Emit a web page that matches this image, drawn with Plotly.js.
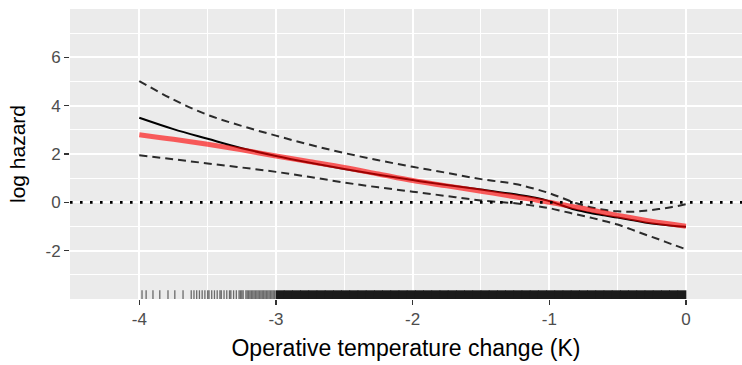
<!DOCTYPE html>
<html>
<head>
<meta charset="utf-8">
<script src="https://cdn.plot.ly/plotly-3.0.1.min.js"></script>
<style>html,body{margin:0;padding:0;background:#fff;}#chart{width:742px;height:365px;}</style>
</head>
<body>
<div id="chart"></div>
<script>
// Temperature change (K) grid for the curves
const tempChange = [-4, -3.75, -3.5, -3.25, -3, -2.75, -2.5, -2.25, -2, -1.75, -1.5, -1.25, -1.1, -1, -0.9, -0.8, -0.7, -0.6, -0.5, -0.4, -0.3, -0.2, -0.1, 0];
// Smooth estimate (black)
const estimate = [3.50, 3.03, 2.63, 2.24, 1.92, 1.64, 1.38, 1.14, 0.92, 0.72, 0.53, 0.33, 0.19, 0.05, -0.14, -0.32, -0.44, -0.54, -0.63, -0.73, -0.83, -0.91, -0.97, -1.01];
// Linear-ish fit (red)
const linearFit = [2.80, 2.61, 2.40, 2.17, 1.92, 1.68, 1.44, 1.17, 0.90, 0.68, 0.46, 0.23, 0.10, 0.00, -0.10, -0.20, -0.31, -0.43, -0.54, -0.64, -0.74, -0.83, -0.91, -0.99];
// Confidence band (dashed)
const upperCI = [5.02, 4.25, 3.62, 3.16, 2.76, 2.38, 2.04, 1.74, 1.47, 1.22, 0.96, 0.76, 0.55, 0.38, 0.17, -0.04, -0.20, -0.31, -0.37, -0.39, -0.35, -0.28, -0.19, -0.08];
const lowerCI = [1.95, 1.78, 1.61, 1.44, 1.26, 1.05, 0.82, 0.62, 0.44, 0.26, 0.08, -0.04, -0.15, -0.24, -0.37, -0.50, -0.63, -0.77, -0.92, -1.12, -1.33, -1.53, -1.74, -1.94];
// Rug observations
const rugSparse = [-3.98, -3.95, -3.90, -3.85, -3.79, -3.74, -3.68, -3.62, -3.60, -3.58, -3.56, -3.54, -3.52, -3.50, -3.49, -3.47, -3.45, -3.43, -3.41, -3.40, -3.38, -3.36, -3.34, -3.33, -3.31, -3.29, -3.27, -3.26, -3.25, -3.24, -3.22, -3.21, -3.20, -3.19, -3.18, -3.17, -3.16, -3.15, -3.14, -3.13, -3.12, -3.11, -3.10, -3.09, -3.08, -3.07, -3.06, -3.05, -3.04, -3.03, -3.02, -3.01];
const rugDense = [-2.97, -2.91, -2.85, -2.79, -2.73, -2.67, -2.61, -2.55, -2.49, -2.43, -2.37, -2.31, -2.25, -2.19, -2.13, -2.07, -2.01, -1.95, -1.89, -1.83, -1.77, -1.71, -1.65, -1.59, -1.53, -1.47, -1.41, -1.35, -1.29, -1.23, -1.17, -1.11, -1.05, -0.99, -0.93, -0.87, -0.81, -0.75, -0.69, -0.63, -0.57, -0.51, -0.45, -0.39, -0.33, -0.27, -0.21, -0.15, -0.09, -0.03];
// Axis ticks
const xTickVals = [-4, -3, -2, -1, 0];
const xTickText = ['-4', '-3', '-2', '-1', '0'];
const yTickVals = [-2, 0, 2, 4, 6];
const yTickText = ['-2', '0', '2', '4', '6'];

const yMin = -4, yMax = 8;
const rugLen = (yMax - yMin) * 0.03;
function rugXY(vals) {
  const x = [], y = [];
  vals.forEach(v => { x.push(v, v, null); y.push(yMin, yMin + rugLen, null); });
  return {x, y};
}
const rs = rugXY(rugSparse), rd = rugXY(rugDense);

const dashStyle = '8px,5px';
const traces = [
  {x: rs.x, y: rs.y, mode: 'lines', line: {color: 'rgba(0,0,0,0.55)', width: 1.3}, hoverinfo: 'skip', connectgaps: false},
  {x: rd.x, y: rd.y, mode: 'lines', line: {color: '#1a1a1a', width: 9}, hoverinfo: 'skip', connectgaps: false},
  {x: tempChange, y: upperCI, mode: 'lines', line: {color: '#2b2b2b', width: 2, dash: dashStyle, shape: 'spline'}},
  {x: tempChange, y: lowerCI, mode: 'lines', line: {color: '#2b2b2b', width: 2, dash: dashStyle, shape: 'spline'}},
  {x: tempChange, y: estimate, mode: 'lines', line: {color: '#000000', width: 2, shape: 'spline'}},
  {x: tempChange, y: linearFit, mode: 'lines', line: {color: 'rgba(255,0,0,0.62)', width: 5, shape: 'spline'}}
];

const axisCommon = {
  showline: false, zeroline: false,
  ticks: 'outside', ticklen: 5, tickwidth: 1.3, tickcolor: '#333333',
  gridcolor: '#FFFFFF', gridwidth: 2,
  tickfont: {family: 'Liberation Sans, Arial, sans-serif', size: 17, color: '#4D4D4D'},
  fixedrange: true
};

const layout = {
  width: 742, height: 365,
  margin: {l: 70, r: 0, t: 9, b: 66},
  paper_bgcolor: '#FFFFFF', plot_bgcolor: '#EBEBEB',
  showlegend: false,
  font: {family: 'Liberation Sans, Arial, sans-serif'},
  xaxis: Object.assign({}, axisCommon, {
    range: [-4.507, 0.41],
    tickmode: 'array', tickvals: xTickVals, ticktext: xTickText,
    minor: {dtick: 0.5, tick0: 0, showgrid: true, gridcolor: '#FFFFFF', gridwidth: 1, ticks: ''},
    title: {text: 'Operative temperature change (K)', font: {size: 23, color: '#000000'}, standoff: 11}
  }),
  yaxis: Object.assign({}, axisCommon, {
    range: [yMin, yMax],
    tickmode: 'array', tickvals: yTickVals, ticktext: yTickText,
    minor: {dtick: 1, tick0: 0, showgrid: true, gridcolor: '#FFFFFF', gridwidth: 1, ticks: ''},
    title: {text: 'log hazard', font: {size: 21, color: '#000000'}, standoff: 14}
  }),
  shapes: [{
    type: 'line', xref: 'paper', yref: 'y', x0: 0, x1: 1, y0: 0, y1: 0,
    line: {color: '#000000', width: 2.6, dash: '2.6px,7.4px'}, layer: 'above'
  }]
};

Plotly.newPlot('chart', traces, layout, {displayModeBar: false, staticPlot: true});
</script>
</body>
</html>
